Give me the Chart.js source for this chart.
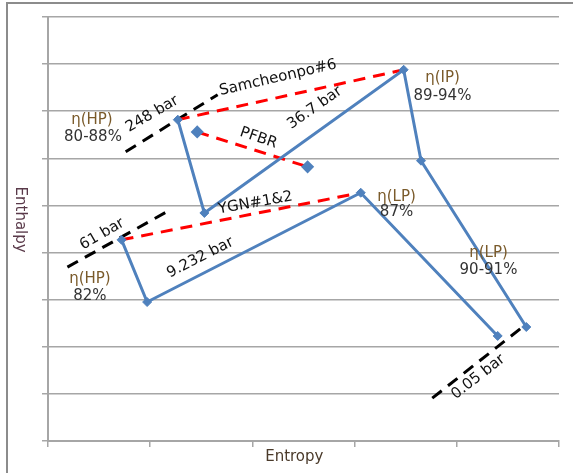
<!DOCTYPE html>
<html>
<head>
<meta charset="utf-8">
<script src="https://cdn.jsdelivr.net/npm/chart.js@4.4.0/dist/chart.umd.min.js"></script>
<style>
  body { margin: 0; background: #fff; }
  canvas { display: block; }
</style>
</head>
<body>
<canvas id="chart" width="573" height="473"></canvas>
<script>
// entropy (x) / enthalpy (y) in arbitrary units
// Samcheonpo#6 cycle (blue)
const samS = [1.27, 1.53, 3.48, 3.65, 4.68];
const samH = [6.82, 4.84, 7.88, 5.95, 2.42];
// YGN#1&2 cycle (blue)
const ygnS = [0.72, 0.97, 3.06, 4.40];
const ygnH = [4.27, 2.95, 5.27, 2.23];
// red dashed comparisons
const samRedS = [1.27, 3.48];
const samRedH = [6.82, 7.88];
const ygnRedS = [0.72, 3.06];
const ygnRedH = [4.27, 5.27];
const pfbrS = [1.46, 2.54];
const pfbrH = [6.56, 5.82];
// black dashed isobars
const bar248S = [0.76, 1.66];
const bar248H = [6.14, 7.35];
const bar61S = [0.19, 1.19];
const bar61H = [3.69, 4.90];
const bar005S = [3.76, 4.62];
const bar005H = [0.91, 2.38];

function pts(xs, ys) {
  return xs.map((x, i) => ({ x: x, y: ys[i] }));
}

const blue = '#4F81BD';
const brown = '#7a5a2a';

// text notes placed in data units
const notes = [
  { t: 'Samcheonpo#6', x: 2.25, y: 7.71, r: -13, c: '#111' },
  { t: '248 bar', x: 1.02, y: 6.94, r: -30, c: '#111' },
  { t: 'η(HP)', x: 0.43, y: 6.82, r: 0, c: brown },
  { t: '80-88%', x: 0.44, y: 6.45, r: 0, c: '#333' },
  { t: 'PFBR', x: 2.06, y: 6.43, r: 19, c: '#111' },
  { t: '36.7 bar', x: 2.61, y: 7.07, r: -35, c: '#111' },
  { t: 'η(IP)', x: 3.86, y: 7.71, r: 0, c: brown },
  { t: '89-94%', x: 3.86, y: 7.32, r: 0, c: '#333' },
  { t: 'YGN#1&2', x: 2.03, y: 5.05, r: -10, c: '#111' },
  { t: '61 bar', x: 0.53, y: 4.39, r: -30, c: '#111' },
  { t: 'η(LP)', x: 3.41, y: 5.18, r: 0, c: brown },
  { t: '87%', x: 3.41, y: 4.86, r: 0, c: '#333' },
  { t: '9.232 bar', x: 1.49, y: 3.89, r: -27, c: '#111' },
  { t: 'η(HP)', x: 0.41, y: 3.44, r: 0, c: brown },
  { t: '82%', x: 0.41, y: 3.08, r: 0, c: '#333' },
  { t: 'η(LP)', x: 4.31, y: 3.99, r: 0, c: brown },
  { t: '90-91%', x: 4.31, y: 3.63, r: 0, c: '#333' },
  { t: '0.05 bar', x: 4.21, y: 1.36, r: -38, c: '#111' }
];

const notePlugin = {
  id: 'notes',
  beforeDraw(chart) {
    const ctx = chart.ctx;
    ctx.save();
    ctx.strokeStyle = '#8c8c8c';
    ctx.lineWidth = 2;
    ctx.beginPath();
    ctx.moveTo(7, 473);
    ctx.lineTo(7, 3);
    ctx.lineTo(573, 3);
    ctx.stroke();
    ctx.restore();
  },
  afterDatasetsDraw(chart) {
    const ctx = chart.ctx;
    const xs = chart.scales.x, ys = chart.scales.y;
    ctx.save();
    ctx.font = '15px "DejaVu Sans"';
    ctx.textAlign = 'center';
    ctx.textBaseline = 'middle';
    notes.forEach(n => {
      ctx.save();
      ctx.translate(xs.getPixelForValue(n.x), ys.getPixelForValue(n.y));
      ctx.rotate(n.r * Math.PI / 180);
      ctx.fillStyle = n.c;
      ctx.fillText(n.t, 0, 0);
      ctx.restore();
    });
    // axis titles
    ctx.fillStyle = '#4a3a2a';
    ctx.fillText('Entropy', xs.getPixelForValue(2.41), chart.chartArea.bottom + 16);
    ctx.translate(20, ys.getPixelForValue(4.7));
    ctx.rotate(Math.PI / 2);
    ctx.fillStyle = '#5a3a4a';
    ctx.fillText('Enthalpy', 0, 0);
    ctx.restore();
  }
};

function solid(data) {
  return {
    data: data, showLine: true, borderColor: blue, borderWidth: 3,
    pointStyle: 'rectRot', pointRadius: 4.5, pointBackgroundColor: blue,
    pointBorderColor: blue, pointBorderWidth: 1
  };
}
function dashed(data, color) {
  return {
    data: data, showLine: true, borderColor: color, borderWidth: 3,
    borderDash: [12, 8], pointRadius: 0
  };
}

const pfbr = dashed(pts(pfbrS, pfbrH), '#FF0000');
pfbr.pointStyle = 'rectRot';
pfbr.pointRadius = 4.5;
pfbr.pointBackgroundColor = blue;
pfbr.pointBorderColor = blue;

new Chart(document.getElementById('chart'), {
  type: 'scatter',
  data: {
    datasets: [
      solid(pts(samS, samH)),
      solid(pts(ygnS, ygnH)),
      pfbr,
      dashed(pts(samRedS, samRedH), '#FF0000'),
      dashed(pts(ygnRedS, ygnRedH), '#FF0000'),
      dashed(pts(bar248S, bar248H), '#000000'),
      dashed(pts(bar61S, bar61H), '#000000'),
      dashed(pts(bar005S, bar005H), '#000000')
    ]
  },
  options: {
    responsive: false,
    animation: false,
    layout: { padding: { left: 0, top: 17, right: 14, bottom: 0 } },
    plugins: { legend: { display: false }, tooltip: { enabled: false } },
    scales: {
      x: {
        type: 'linear', min: 0, max: 5,
        ticks: { display: false, stepSize: 1 },
        grid: { drawOnChartArea: false, drawTicks: true, tickLength: 6, color: '#a6a6a6', lineWidth: 1.5 },
        border: { color: '#a6a6a6', width: 2 },
        afterFit(scale) { scale.height = 32; }
      },
      y: {
        type: 'linear', min: 0, max: 9,
        ticks: { display: false, stepSize: 1 },
        grid: { drawTicks: true, tickLength: 6, color: '#a6a6a6', lineWidth: 1.5 },
        border: { color: '#a6a6a6', width: 2 },
        afterFit(scale) { scale.width = 48; }
      }
    }
  },
  plugins: [notePlugin]
});
</script>
</body>
</html>
